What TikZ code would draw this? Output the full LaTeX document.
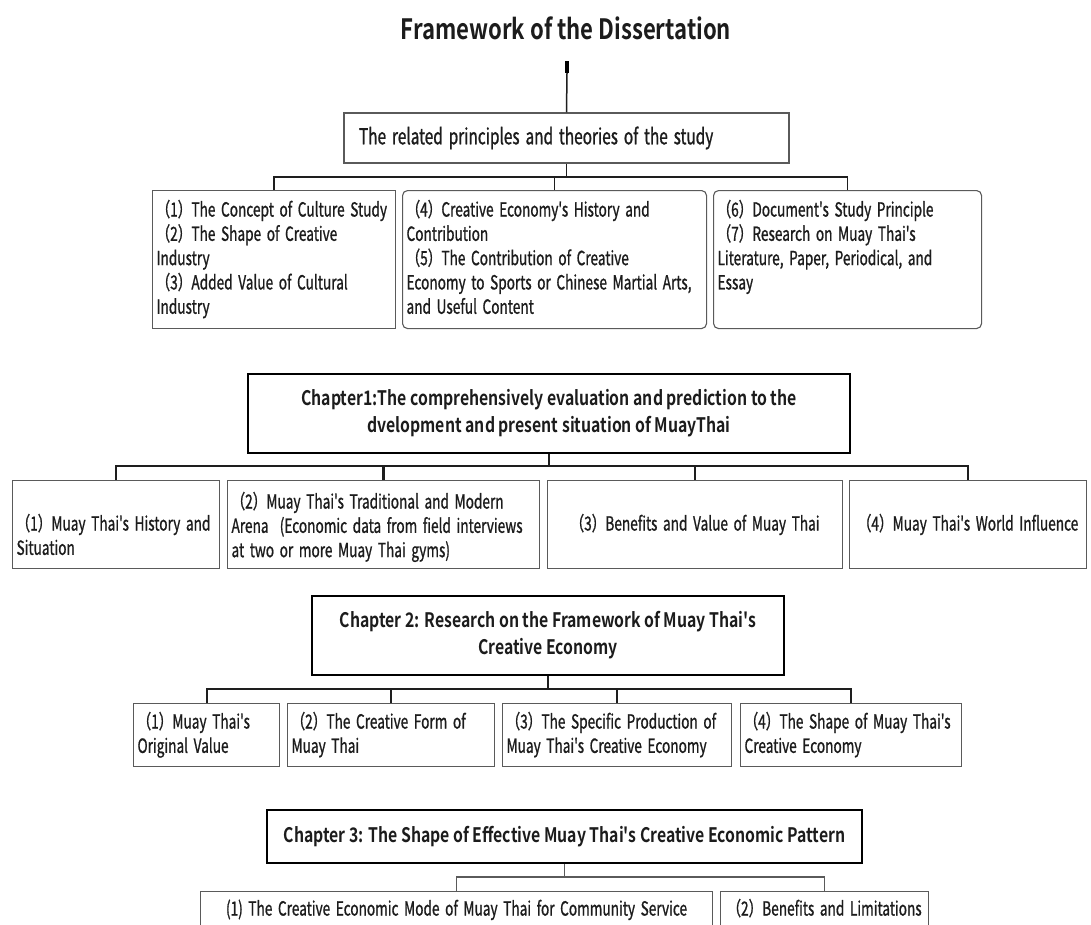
\documentclass[tikz,border=0pt]{standalone}
\usepackage{fontspec}
\setmainfont{Noto Sans CJK SC}[Ligatures=TeXOff,FakeStretch=0.70,FakeBold=0.9]
\newfontfamily\boldf{Noto Sans CJK SC Bold}[Ligatures=TeXOff,FakeStretch=0.79]
\definecolor{ink}{HTML}{1C1C1C}
\definecolor{boxgray}{HTML}{5A5A5A}
\definecolor{linkc}{HTML}{1E1E1E}
\begin{document}
\begin{tikzpicture}[x=1pt,y=-1pt,
  every node/.style={font=\fontsize{19.5}{24.3}\selectfont, text=ink},
  tbox/.style={draw=boxgray, line width=1.1pt, rectangle, inner xsep=4pt, inner ysep=0pt, anchor=north west, align=flush left,
    execute at begin node={\spaceskip=5.6pt plus 3pt minus 1pt\relax}},
  rbox/.style={tbox, rounded corners=5pt},
  cbox/.style={tbox, align=flush center},
  chap/.style={draw=black, line width=2.3pt, font=\boldf\fontsize{20}{27}\selectfont, align=center, inner sep=0pt},
  link/.style={draw=linkc, line width=1.8pt},
  thinlink/.style={draw=boxgray, line width=1.2pt}]
\useasboundingbox (0,0) rectangle (1091,924);
\clip (0,0) rectangle (1091,924);
\fill[white] (0,0) rectangle (1091,924);

% title
\node[font=\boldf\fontsize{28}{32}\selectfont] (title) at (566,28) {Framework of the Dissertation};
\coordinate (tk0) at (567,61);
\coordinate (tk1) at (567,73);
\draw[line width=4pt, black] (tk0) -- (tk1);

% related principles
\node[draw=boxgray, line width=1.5pt, inner xsep=15pt, inner ysep=0pt, text width=415pt, minimum height=50pt, align=flush left, font=\fontsize{22}{26}\selectfont,
  execute at begin node={\spaceskip=5.9pt plus 3pt minus 1pt\relax}] (rel) at (566.5,138) {The related principles and theories of the study};
\draw[link, line width=1.5pt] (tk1) -- (rel.north);

\node[tbox, text width=235pt, text height=26pt, text depth=112pt] (t1) at (152,190)
 {（1）The Concept of Culture Study\\（2）The Shape of Creative\\Industry\\（3）Added Value of Cultural\\Industry};
\node[rbox, text width=296pt, text height=26pt, text depth=112pt] (t2) at (402,190)
 {（4）Creative Economy's History and\\Contribution\\（5）The Contribution of Creative\\Economy to Sports or Chinese Martial Arts,\\and Useful Content};
\node[rbox, text width=260pt, text height=26pt, text depth=112pt] (t3) at (713,190)
 {（6）Document's Study Principle\\（7）Research on Muay Thai's\\Literature, Paper, Periodical, and\\Essay};
\coordinate (j0) at (566.5,177);
\draw[link] (rel.south) -- (j0);
\draw[link] (t1.north) |- (j0);
\draw[link] (t2.north) |- (j0);
\draw[link] (t3.north) |- (j0);

% chapter 1
\node[chap, minimum width=602pt, minimum height=79pt] (ch1) at (549,413.5)
 {Chapter1:The comprehensively evaluation and prediction to the\\dvelopment and present situation of MuayThai};
\node[tbox, text width=199pt, text height=50pt, text depth=38pt] (a1) at (12,480)
 {（1）Muay Thai's History and\\Situation};
\node[tbox, text width=304pt, text height=28pt, text depth=60pt] (a2) at (227,480)
 {（2）Muay Thai's Traditional and Modern\\Arena\ \ (Economic data from field interviews\\at two or more Muay Thai gyms)};
\node[cbox, text width=287pt, text height=50pt, text depth=38pt] (a3) at (547,480)
 {（3）Benefits and Value of Muay Thai};
\node[cbox, text width=229pt, text height=50pt, text depth=38pt] (a4) at (849,480)
 {（4）Muay Thai's World Influence};
\coordinate (j1) at (549,466);
\draw[link, line width=2.2pt] (ch1.south) -- (j1);
\draw[link, line width=2.2pt] (a1.north) |- (j1);
\draw[link, line width=2.2pt] (a2.north) |- (j1);
\draw[link, line width=2.2pt] (a3.north) |- (j1);
\draw[link, line width=2.2pt] (a4.north) |- (j1);

% chapter 2
\node[chap, minimum width=472pt, minimum height=79pt] (ch2) at (548,635.5)
 {Chapter 2: Research on the Framework of Muay Thai's\\Creative Economy};
\node[tbox, text width=138pt, text height=25pt, text depth=38pt] (b1) at (133,703)
 {（1）Muay Thai's\\Original Value};
\node[tbox, text width=199pt, text height=25pt, text depth=38pt] (b2) at (287,703)
 {（2）The Creative Form of\\Muay Thai};
\node[tbox, text width=221pt, text height=25pt, text depth=38pt] (b3) at (502,703)
 {（3）The Specific Production of\\Muay Thai's Creative Economy};
\node[tbox, text width=213pt, text height=25pt, text depth=38pt] (b4) at (740,703)
 {（4）The Shape of Muay Thai's\\Creative Economy};
\coordinate (j2) at (548,689);
\draw[link, line width=2pt] (ch2.south) -- (j2);
\draw[link, line width=2pt] (b1.north) |- (j2);
\draw[link, line width=2pt] (b2.north) |- (j2);
\draw[link, line width=2pt] (b3.north) |- (j2);
\draw[link, line width=2pt] (b4.north) |- (j2);

% chapter 3
\node[chap, minimum width=595pt, minimum height=53pt] (ch3) at (564.5,836.5)
 {Chapter 3: The Shape of Effective Muay Thai's Creative Economic Pattern};
\node[cbox, text width=504pt, text height=24pt, text depth=26pt] (c1) at (200,891)
 {(1) The Creative Economic Mode of Muay Thai for Community Service};
\node[cbox, text width=200pt, text height=24pt, text depth=26pt] (c2) at (720,891)
 {（2）Benefits and Limitations};
\coordinate (j3) at (564.5,877);
\draw[thinlink] (ch3.south) -- (j3);
\draw[thinlink] (c1.north) |- (j3);
\draw[thinlink] (c2.north) |- (j3);
\end{tikzpicture}
\end{document}
